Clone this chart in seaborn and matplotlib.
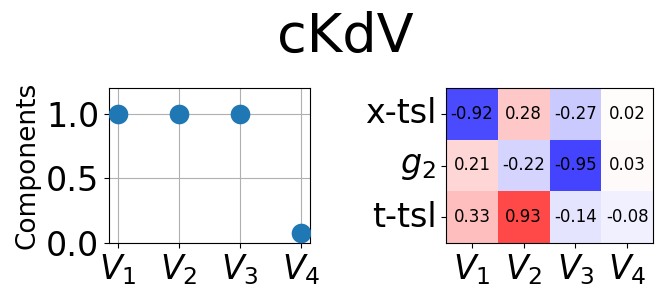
import numpy as np
import pandas as pd
import matplotlib
matplotlib.use("Agg")
import matplotlib.pyplot as plt
import seaborn as sns

# data
modes = ["$V_1$", "$V_2$", "$V_3$", "$V_4$"]
components = [1.0, 1.0, 1.0, 0.08]
row_labels = ["x-tsl", "$g_2$", "t-tsl"]
corr_xtsl = [-0.92, 0.28, -0.27, 0.02]
corr_g2 = [0.21, -0.22, -0.95, 0.03]
corr_ttsl = [0.33, 0.93, -0.14, -0.08]

W, H = 662, 299
fig = plt.figure(figsize=(W / 100, H / 100), dpi=100)

# left: components
ax1 = fig.add_axes([109 / W, (H - 243) / H, (310 - 109) / W, (243 - 88) / H])
comp_df = pd.DataFrame({"mode": modes, "Components": components})
ax1.grid(True, color="#b0b0b0", linewidth=0.8)
ax1.set_axisbelow(True)
sns.scatterplot(data=comp_df, x="mode", y="Components", ax=ax1,
                s=200, color="#1f77b4", linewidth=0, zorder=3)
ax1.set_ylim(0, 1.2)
ax1.set_xlim(-0.15, 3.15)
ax1.set_yticks([0.0, 0.5, 1.0])
ax1.set_xlabel("")
ax1.set_ylabel("Components", fontsize=19)
ax1.tick_params(labelsize=24)

# right: correlation heatmap
ax2 = fig.add_axes([446 / W, (H - 243) / H, (653 - 446) / W, (243 - 88) / H])
corr = pd.DataFrame([corr_xtsl, corr_g2, corr_ttsl], index=row_labels, columns=modes)
sns.heatmap(corr, ax=ax2, cmap="bwr", vmin=-1.3, vmax=1.3, cbar=False,
            annot=True, fmt=".2f", annot_kws={"size": 12, "color": "black"})
for sp in ax2.spines.values():
    sp.set_visible(True)
    sp.set_color("black")
    sp.set_linewidth(0.8)
ax2.tick_params(labelsize=24, length=3.5, width=0.8)
ax2.set_yticklabels(row_labels, rotation=0)
ax2.set_xticklabels(modes, rotation=0)

fig.text(345 / W, 1 - 52 / H, "cKdV", fontsize=39, ha="center", va="baseline")

fig.savefig("out.png", dpi=100)
